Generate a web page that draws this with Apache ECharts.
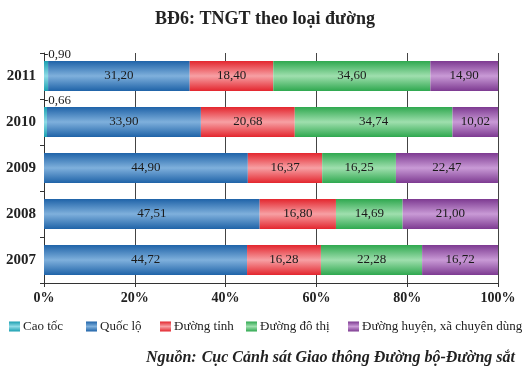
<!DOCTYPE html>
<html><head><meta charset="utf-8">
<script src="https://cdn.jsdelivr.net/npm/echarts@6/dist/echarts.min.js"></script>
<style>html,body{margin:0;padding:0;background:#fff}#c{width:530px;height:382px}</style>
</head><body><div id="c"></div>
<script>
var years = ['2007','2008','2009','2010','2011'];
var seriesNames = ['Cao tốc','Quốc lộ','Đường tỉnh','Đường đô thị','Đường huyện, xã chuyên dùng'];
var caoToc   = [0, 0, 0, 0.66, 0.90];
var quocLo   = [44.72, 47.51, 44.90, 33.90, 31.20];
var duongTinh= [16.28, 16.80, 16.37, 20.68, 18.40];
var doThi    = [22.28, 14.69, 16.25, 34.74, 34.60];
var huyenXa  = [16.72, 21.00, 22.47, 10.02, 14.90];
var xTicks = ['0%','20%','40%','60%','80%','100%'];

var colors = [
  ['#1a9fb0','#8fdbe6'],
  ['#1f63a8','#7fb0dc'],
  ['#e3262e','#f7a0a4'],
  ['#2fa84f','#9fdfae'],
  ['#7d3a91','#c99ad6']
];
function grad(c){
  return new echarts.graphic.LinearGradient(0,0,0,1,[
    {offset:0,color:c[0]},{offset:0.5,color:c[1]},{offset:1,color:c[0]}
  ]);
}
function fmt(v){ return v.toFixed(2).replace('.', ','); }
var all = [caoToc, quocLo, duongTinh, doThi, huyenXa];
var serif = '"Liberation Serif","DejaVu Serif",serif';

var series = all.map(function(arr, i){
  var s = {
    name: seriesNames[i], type:'bar', stack:'t', barWidth: 30,
    data: arr,
    itemStyle:{color: grad(colors[i])},
    label:{show:true, position:'inside', fontFamily:serif, fontSize:13, color:'#1a1a1a',
      formatter:function(p){ return p.value>0 ? fmt(p.value) : ''; }}
  };
  if(i===0){
    s.label = {show:true, position:[0,-13], align:'left', fontFamily:serif, fontSize:13, color:'#1a1a1a',
      formatter:function(p){ return p.value>0 ? '-' + fmt(p.value) : ''; }};
  }
  return s;
});

var legendLefts = [4, 81, 155, 241, 343];
var legends = seriesNames.map(function(n, i){
  return {
    data:[n], left: legendLefts[i], top:315, itemWidth:11, itemHeight:10, icon:'rect',
    textStyle:{fontFamily:serif, fontSize:13, color:'#222', padding:[0,0,0,-2]}
  };
});

var chart = echarts.init(document.getElementById('c'));
chart.setOption({
  animation:false,
  color: colors.map(function(c){return c[0];}),
  title:[
    {text:'BĐ6: TNGT theo loại đường', left:'center', top:5,
     textStyle:{fontFamily:serif, fontWeight:'bold', fontSize:18, color:'#222'}},
    {text:'{b|Nguồn:} {i|Cục Cảnh sát Giao thông Đường bộ-Đường sắt}', right:10, top:344,
     textStyle:{rich:{
       b:{fontFamily:serif, fontWeight:'bold', fontStyle:'italic', fontSize:16, color:'#222'},
       i:{fontFamily:serif, fontStyle:'italic', fontSize:16, color:'#222'}}}}
  ],
  legend: legends,
  grid:{left:44, right:32, top:53, bottom:99, containLabel:false},
  xAxis:{
    type:'value', min:0, max:100, interval:20,
    axisLine:{show:true, lineStyle:{color:'#333'}},
    axisTick:{show:true, length:4, inside:false, lineStyle:{color:'#333'}},
    axisLabel:{fontFamily:serif, fontWeight:'bold', fontSize:14, color:'#222', margin:8,
      formatter:function(v){ return xTicks[v/20]; }},
    splitLine:{show:true, lineStyle:{color:'#444', width:1}}
  },
  yAxis:{
    type:'category', data: years,
    axisLine:{show:true, lineStyle:{color:'#333'}},
    axisTick:{show:true, length:4, lineStyle:{color:'#333'}},
    axisLabel:{fontFamily:serif, fontWeight:'bold', fontSize:15, color:'#222', margin:8}
  },
  series: series
});
</script></body></html>
